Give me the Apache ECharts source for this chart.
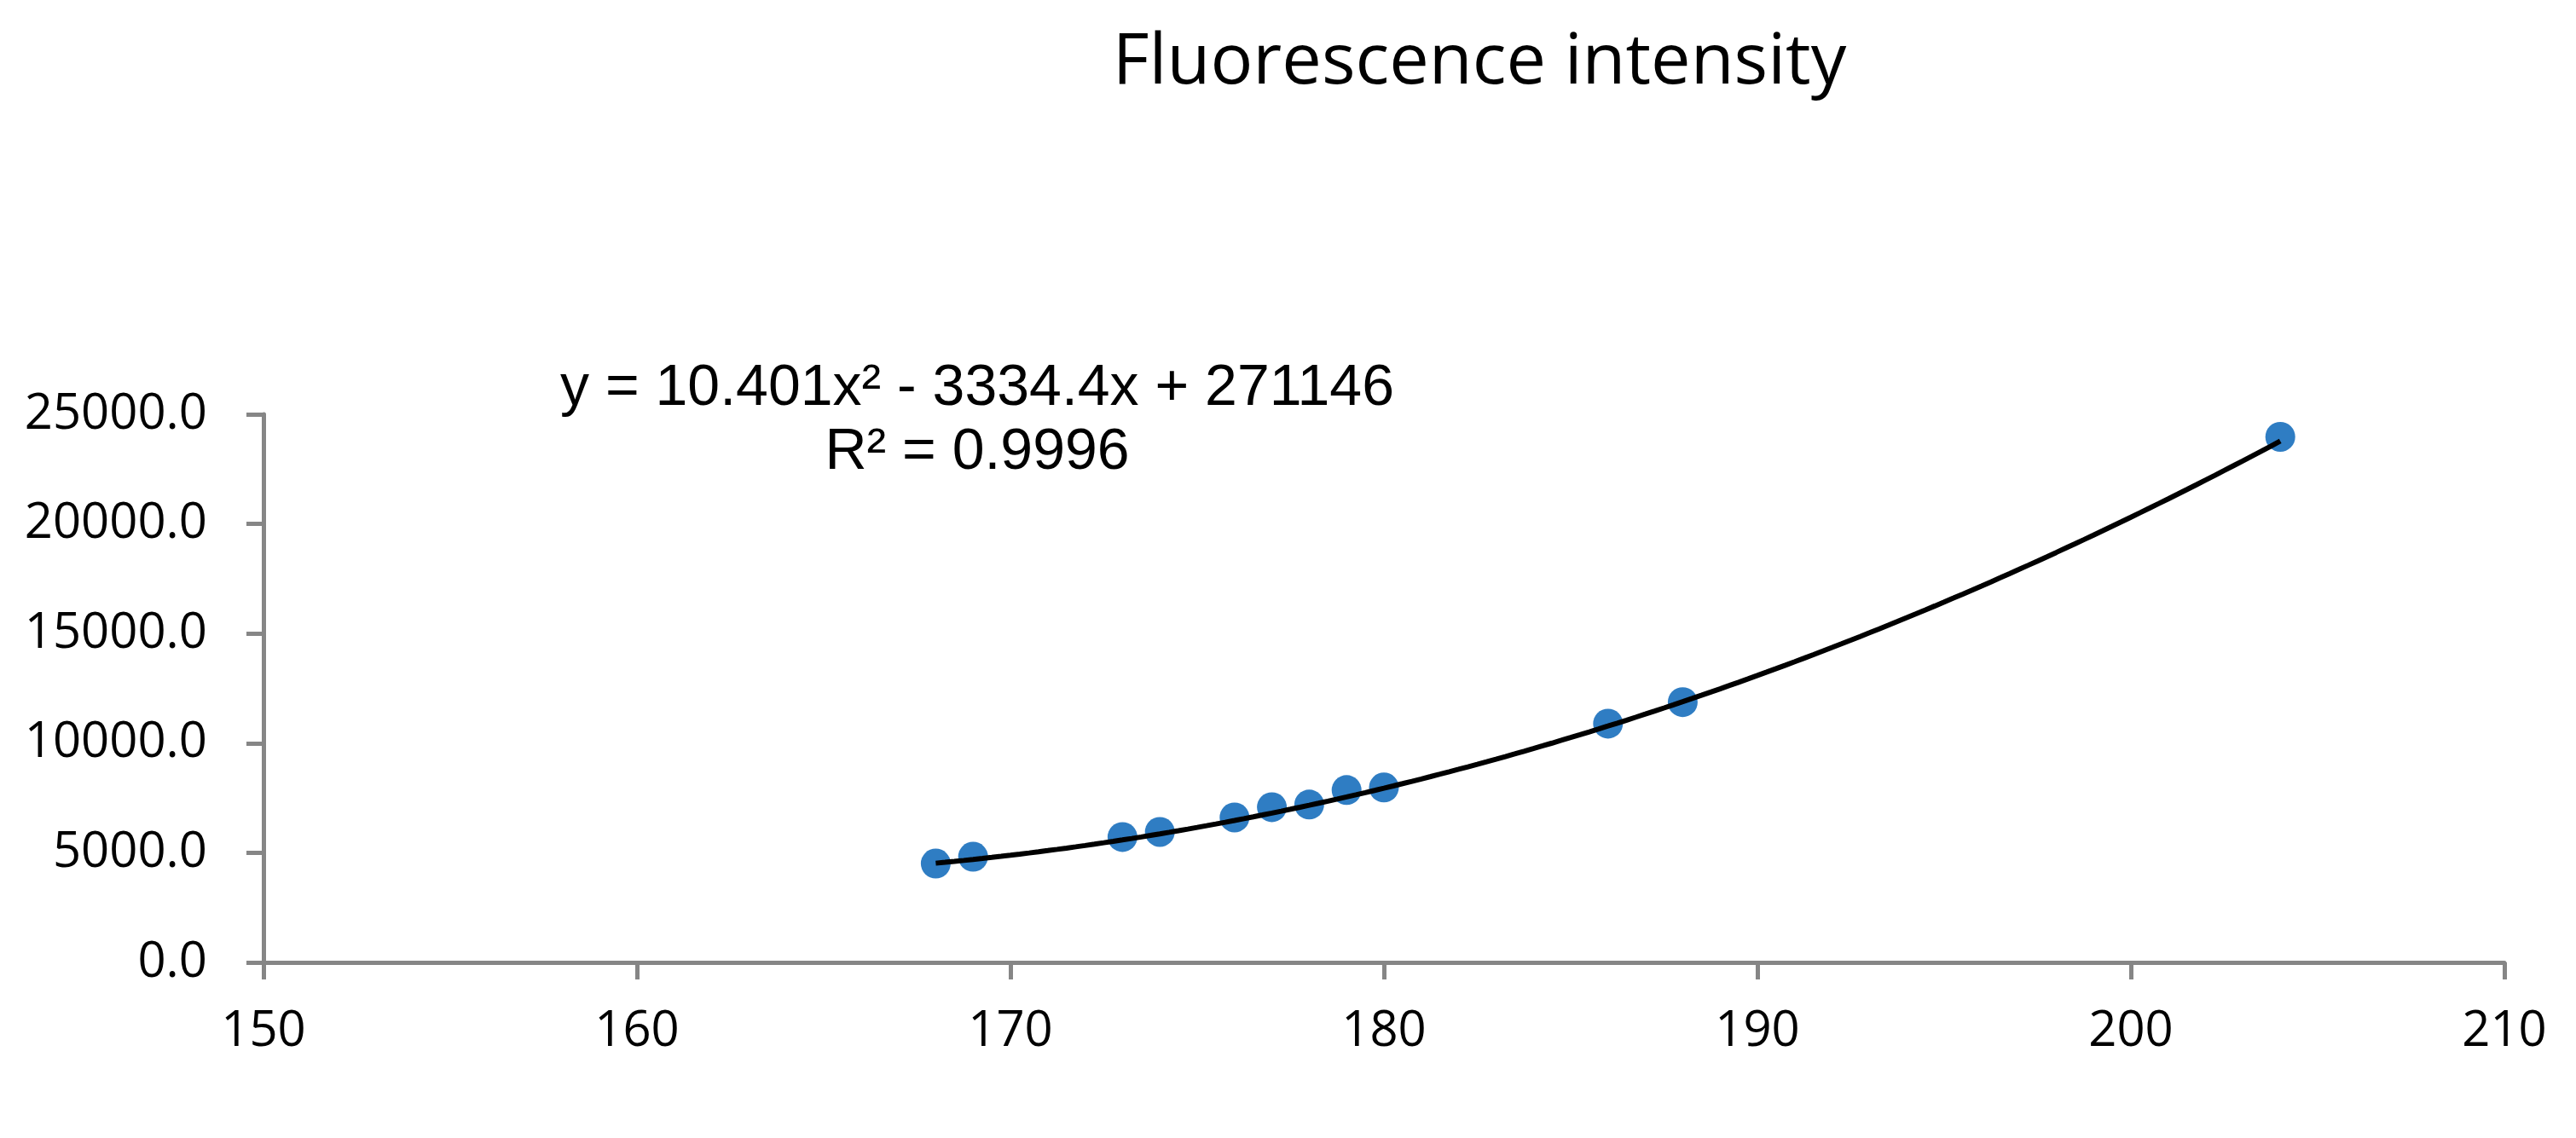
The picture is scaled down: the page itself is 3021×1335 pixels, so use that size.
<!DOCTYPE html>
<html>
<head>
<meta charset="utf-8">
<title>Fluorescence intensity</title>
<script src="https://cdn.jsdelivr.net/npm/echarts@6/dist/echarts.min.js"></script>
<style>
  html, body { margin: 0; padding: 0; background: #fff; }
  #container { width: 3021px; height: 1335px; }
</style>
</head>
<body>
<div id="container"></div>
<script>
// measured points (x, fluorescence)
var xValues = [168, 169, 173, 174, 176, 177, 178, 179, 180, 186, 188, 204];
var yValues = [4510, 4820, 5720, 5950, 6610, 7080, 7200, 7860, 7980, 10890, 11870, 23970];

// polynomial trendline as printed on the chart: a*x^2 + b*x + c
var trendCoef = [10.401, -3334.4, 271146];
var trendLabel = ['y = 10.401x\u00b2 - 3334.4x + 271146', 'R\u00b2 = 0.9996'];

var chartTitle = 'Fluorescence intensity';

var dom = document.getElementById('container');
var myChart = echarts.init(dom);

var points = xValues.map(function(x, i) {
  return [x, yValues[i]];
});

// trendline spans the data range only
var trend = [];
var xMin = xValues[0], xMax = xValues[xValues.length - 1];
for (var x = xMin; x <= xMax + 1e-9; x += 0.25) {
  trend.push([x, trendCoef[0] * x * x + trendCoef[1] * x + trendCoef[2]]);
}

var axisGray = '#868686';

myChart.setOption({
  animation: false,
  backgroundColor: '#fff',
  title: {
    text: chartTitle,
    left: 1730,
    top: 28,
    textAlign: 'center',
    textStyle: {
      fontFamily: 'Open Sans',
      fontWeight: 'normal',
      fontSize: 83,
      color: '#000'
    }
  },
  grid: {
    left: 309,
    right: 84,
    top: 486,
    bottom: 206
  },
  xAxis: {
    type: 'value',
    min: 150,
    max: 210,
    interval: 10,
    splitLine: { show: false },
    axisLine: { onZero: false, lineStyle: { color: axisGray, width: 5 } },
    axisTick: { inside: false, length: 20, lineStyle: { color: axisGray, width: 5 } },
    axisLabel: {
      margin: 52,
      fontFamily: 'Open Sans',
      fontSize: 58,
      color: '#000'
    }
  },
  yAxis: {
    type: 'value',
    min: 0,
    max: 25000,
    interval: 5000,
    splitLine: { show: false },
    axisLine: { show: true, lineStyle: { color: axisGray, width: 5 } },
    axisTick: { show: true, inside: false, length: 20, lineStyle: { color: axisGray, width: 5 } },
    axisLabel: {
      margin: 66,
      fontFamily: 'Open Sans',
      fontSize: 58,
      color: '#000',
      formatter: function(v) { return v.toFixed(1); }
    }
  },
  graphic: [{
    type: 'text',
    x: 1146,
    y: 419,
    style: {
      text: trendLabel.join('\n'),
      align: 'center',
      verticalAlign: 'top',
      fontFamily: 'Liberation Sans',
      fontSize: 68,
      lineHeight: 75,
      fill: '#000'
    }
  }],
  series: [{
    type: 'scatter',
    name: 'Fluorescence',
    data: points,
    symbolSize: 35,
    itemStyle: { color: '#2F7DC3', opacity: 1 },
    z: 2
  }, {
    type: 'line',
    name: 'trend',
    data: trend,
    showSymbol: false,
    smooth: false,
    lineStyle: { color: '#000', width: 6 },
    z: 3
  }]
});
</script>
</body>
</html>
